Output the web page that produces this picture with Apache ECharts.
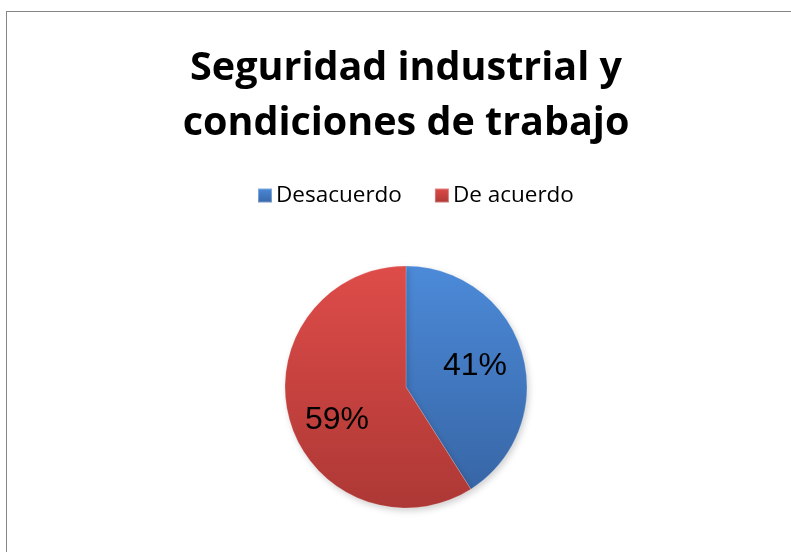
<!DOCTYPE html>
<html>
<head>
<meta charset="utf-8">
<script src="https://cdn.jsdelivr.net/npm/echarts@6/dist/echarts.min.js"></script>
<style>
  html, body { margin: 0; padding: 0; background: #fff; overflow: hidden; }
  #frame { position: absolute; left: 6px; top: 11px; width: 800px; height: 560px; border: 1px solid #868686; box-sizing: border-box; }
  #chart { position: absolute; left: 0; top: 0; width: 812px; height: 552px; }
</style>
</head>
<body>
<div id="frame"></div>
<div id="chart"></div>
<script>
const titleLines = ['Seguridad industrial y', 'condiciones de trabajo'];
const categories = ['Desacuerdo', 'De acuerdo'];
const shares = [41, 59];
const percentLabels = ['41%', '59%'];

const sliceFills = [
  { top: '#4c8ad8', bottom: '#3766a6' },
  { top: '#de4c49', bottom: '#ad3835' }
];
// small nudges for the percentage text inside each slice
const labelNudge = [[-3, 0], [3, 12]];

function shade(c) {
  return {
    type: 'linear', x: 0, y: 0, x2: 0, y2: 1,
    colorStops: [
      { offset: 0, color: c.top },
      { offset: 1, color: c.bottom }
    ]
  };
}

const chart = echarts.init(document.getElementById('chart'), null, { renderer: 'canvas' });
chart.setOption({
  animation: false,
  title: {
    text: titleLines.join('\n'),
    left: 'center',
    top: 36,
    textStyle: {
      fontFamily: 'Open Sans',
      fontWeight: 'bold',
      fontSize: 39.5,
      lineHeight: 55,
      color: '#000'
    }
  },
  legend: {
    data: categories,
    top: 179,
    left: 252,
    itemGap: 32,
    itemWidth: 14,
    itemHeight: 14,
    icon: 'rect',
    textStyle: { fontFamily: 'Open Sans', fontSize: 22.5, color: '#000', padding: [0, 0, 0, -1] }
  },
  series: [
    {
      type: 'pie',
      center: [406, 387],
      radius: [0, 121],
      startAngle: 90,
      clockwise: true,
      silent: true,
      itemStyle: {
        borderColor: 'rgba(255,255,255,0.3)',
        borderWidth: 0.6,
        shadowBlur: 6,
        shadowOffsetX: 2,
        shadowOffsetY: 3,
        shadowColor: 'rgba(0,0,0,0.18)'
      },
      label: { show: false },
      labelLine: { show: false },
      data: categories.map((name, i) => ({
        name,
        value: shares[i],
        itemStyle: { color: shade(sliceFills[i]) }
      }))
    },
    {
      // transparent twin ring that places the percentages further out from the centre
      type: 'pie',
      center: [406, 387],
      radius: [0, 144],
      startAngle: 90,
      clockwise: true,
      silent: true,
      itemStyle: { color: 'rgba(0,0,0,0)' },
      label: {
        show: true,
        position: 'inside',
        fontFamily: 'Liberation Sans',
        fontSize: 32,
        color: '#000'
      },
      labelLine: { show: false },
      data: categories.map((name, i) => ({
        name,
        value: shares[i],
        label: { formatter: percentLabels[i], offset: labelNudge[i] }
      }))
    }
  ]
});
</script>
</body>
</html>
